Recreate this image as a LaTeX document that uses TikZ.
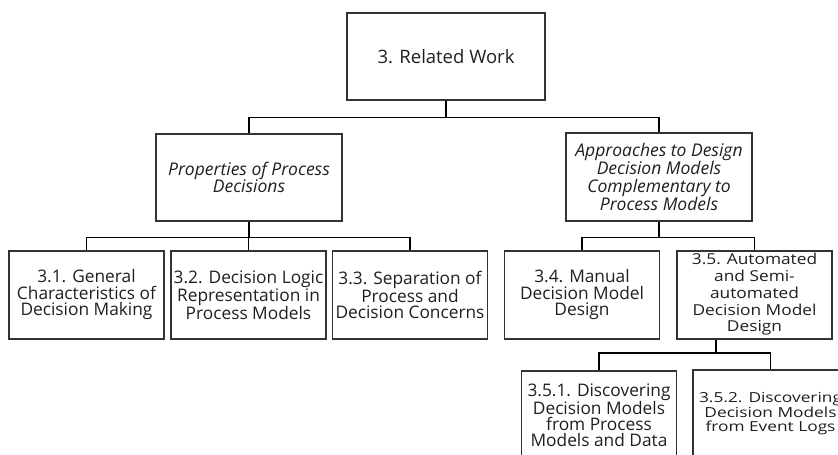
\documentclass[tikz,border=0pt]{standalone}
\usepackage{fontspec}
\usepackage{graphicx}
\setmainfont{Open Sans}
% a block of centred lines, squeezed vertically by #1
\newcommand{\squeezedlines}[3]{\scalebox{1}[#1]{\fontsize{17.3}{#2}\selectfont\begin{tabular}{@{}c@{}}#3\end{tabular}}}
\begin{document}
\begin{tikzpicture}[x=1pt,y=-1pt,
  box/.style={draw=black!80, line width=1.2pt, inner sep=0pt, align=center,
    minimum width=155pt, minimum height=88pt, text=black!88,
    font=\fontsize{17.3}{16.5}\selectfont},
  midbox/.style={box, minimum width=186pt, minimum height=87pt,
    font=\fontsize{17.5}{17.3}\selectfont\itshape},
  link/.style={draw=black, line width=1.2pt}]
\useasboundingbox (0,0) rectangle (838,455);

% top level
\node[box, minimum width=198pt, minimum height=87pt, font=\fontsize{18.5}{20}\selectfont] (root) at (446,56.5) {3. Related Work};

% second level
\node[midbox] (props) at (249,177.5) {Properties of Process\\Decisions};
\node[midbox, minimum height=88pt] (appr) at (659,177) {Approaches to Design\\Decision Models\\Complementary to\\Process Models};

% third level
\node[box] (s31) at (86.5,295) {3.1. General\\Characteristics of\\Decision Making};
\node[box] (s32) at (248.5,295) {3.2. Decision Logic\\Representation in\\Process Models};
\node[box] (s33) at (410,295) {3.3. Separation of\\Process and\\Decision Concerns};
\node[box] (s34) at (582,295) {3.4. Manual\\Decision Model\\Design};
\node[box] (s35) at (754.5,295) {\squeezedlines{0.87}{19.2}{3.5. Automated\\and Semi-\\automated\\Decision Model\\Design}};

% fourth level
\node[box, font=\fontsize{17.3}{16}\selectfont] (s351) at (599,415) {3.5.1. Discovering\\Decision Models\\from Process\\Models and Data};
\node[box] (s352) at (770.5,414) {\squeezedlines{0.8}{16.6}{3.5.2. Discovering\\Decision Models\\from Event Logs}};

% tree connectors
\draw[link] (root.south) -- ++(0,17) -| (props.north);
\draw[link] (root.south) -- ++(0,17) -| (appr.north);
\draw[link] (props.south) -- ++(0,16) -| (s31.north);
\draw[link] (props.south) -- ++(0,16) -| (s32.north);
\draw[link] (props.south) -- ++(0,16) -| (s33.north);
\draw[link] (appr.south) -- ++(0,16) -| (s34.north);
\draw[link] (appr.south) -- ++(0,16) -| (s35.north);
\coordinate (j35) at (716,353);
\draw[link] (s35.south -| j35) -- (j35) -| (s351.north);
\draw[link] (j35) -| (s352.north);
\end{tikzpicture}
\end{document}
